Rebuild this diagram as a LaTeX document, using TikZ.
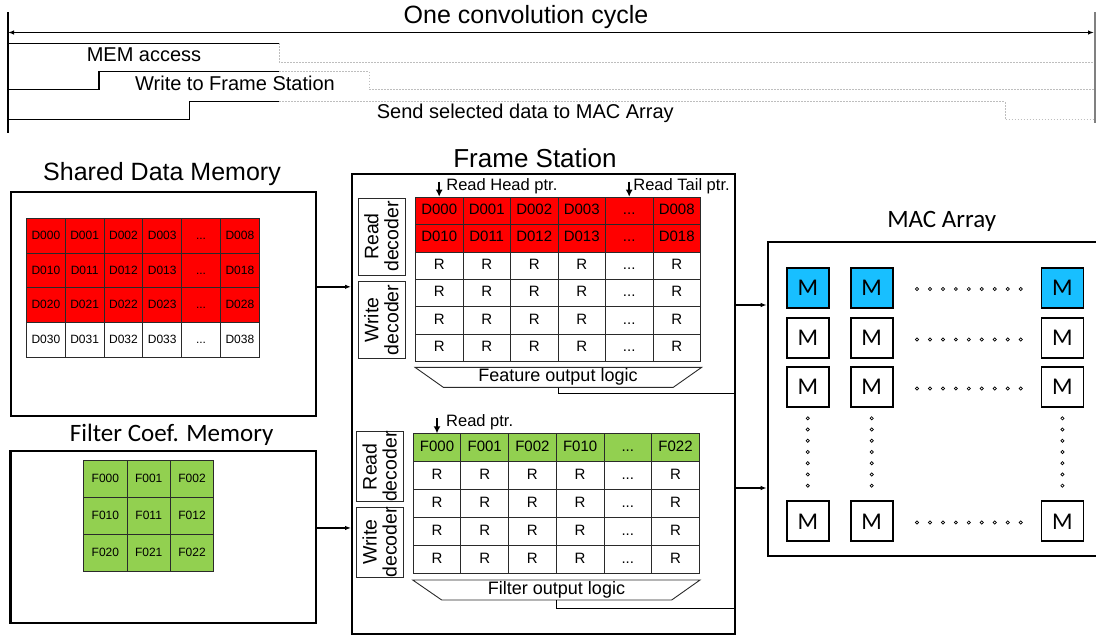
\documentclass[tikz,border=0pt]{standalone}
\usepackage{fontspec}
\setmainfont{Liberation Sans}
\newfontfamily\calibri{Carlito}
\usetikzlibrary{arrows.meta,calc,positioning}
\definecolor{Ink}{HTML}{000000}
\definecolor{Rule}{HTML}{2A2A2A}
\definecolor{CellRed}{HTML}{FF0000}
\definecolor{CellGreen}{HTML}{92D050}
\definecolor{MacBlue}{HTML}{18BFFF}
\definecolor{Wait}{HTML}{BEBEBE}
\newcommand{\pxsize}[1]{\fontsize{#1}{#1}\selectfont}

\begin{document}
\begin{tikzpicture}[x=1pt,y=-1pt,>={Latex[length=6pt,width=4.5pt]},
    bigbox/.style={draw=Ink,line width=2.2pt,inner sep=0pt,anchor=north west},
    smcell/.style={draw=Rule,line width=0.9pt,inner sep=0pt,anchor=north west,
      minimum width=38.8pt,minimum height=34.7pt,font=\pxsize{12},
      text height=0.72em,text depth=0pt},
    fscell/.style={draw=Rule,line width=0.9pt,inner sep=0pt,anchor=north west,
      minimum width=47.5pt,minimum height=27.5pt,font=\pxsize{15},
      text height=0.72em,text depth=0pt},
    decbox/.style={draw=Rule,line width=1pt,inner sep=0pt,rotate=90,align=center,
      minimum width=77pt,minimum height=47pt,font=\fontsize{19.5}{20}\selectfont},
    macbox/.style={draw=Ink,line width=1.8pt,inner sep=0pt,minimum width=42pt,
      minimum height=40pt,font=\calibri\pxsize{24}},
    title/.style={inner sep=0pt,font=\pxsize{25}},
    wave/.style={draw=Ink,line width=1.1pt},
    waitln/.style={draw=Wait,line width=1pt,dash pattern=on 1.5pt off 1.5pt},
    flow/.style={->,draw=Ink,line width=1.5pt},
    ptr/.style={->,>={Latex[length=7pt,width=7pt]},line width=1.7pt},
    ptrlbl/.style={inner sep=0pt,anchor=west,font=\pxsize{16.5}},
    macdot/.style={draw=Ink,line width=0.7pt}]
  \useasboundingbox (0,0) rectangle (1096,635);

  % timing of one cycle
  \coordinate (tl) at (8,32.5);
  \coordinate (tr) at (1094,32.5);
  \draw[line width=1.1pt] (8,12) -- (8,133);
  \draw[line width=1.2pt,gray] (1095,12) -- (1095,123);
  \draw[<->,line width=1.3pt] (tl) -- (tr);
  \node[inner sep=0pt,font=\pxsize{25}] (cyc) at (526,17) {One convolution cycle};
  \draw[wave] (8,43.3) -- (279.3,43.3);
  \draw[waitln] (279.3,43.3) |- (1094,62.5);
  \draw[wave] (8,89.3) -| (99,71.5) -- (279.3,71.5);
  \draw[waitln] (279.3,71.5) -- (369.3,71.5) |- (1094,89.5);
  \draw[wave] (8,119.3) -| (189.3,101.7) -- (279.3,101.7);
  \draw[waitln] (279.3,101.7) -- (1005,101.7) |- (1094,119.3);
  \node[inner sep=0pt,font=\pxsize{20}] (memacc) at (144,55) {MEM access};
  \node[inner sep=0pt,font=\pxsize{20}] (wrfs) at (235,83.3) {Write to Frame Station};
  \node[inner sep=0pt,font=\pxsize{20}] (sendmac) at (525.3,113.3) {Send selected data to MAC Array};

  % shared data memory
  \node[title] (shmt) at (162,174) {Shared Data Memory};
  \node[bigbox,minimum width=305pt,minimum height=224pt] (shm) at (10,191) {};
  \foreach \r/\bg in {0/CellRed,1/CellRed,2/CellRed,3/white}{
    \foreach \c/\k in {0/0,1/1,2/2,3/3,5/8}
      \node[smcell,fill=\bg] (sd\r\c) at ({26+\c*38.8},{218+\r*34.7}) {D0\r\k};
    \node[smcell,fill=\bg] (sd\r4) at ({26+4*38.8},{218+\r*34.7}) {...};
  }

  % filter coefficient memory
  \node[title,font=\calibri\pxsize{25}] (fcmt) at (171.7,435) {Filter Coef. Memory};
  \node[bigbox,minimum width=305.7pt,minimum height=171.7pt] (fcm) at (9.3,450) {};
  \foreach \r in {0,1,2}
    \foreach \c in {0,1,2}
      \node[smcell,fill=CellGreen,minimum width=43.3pt,minimum height=37pt]
        (fc\r\c) at ({83.3+\c*43.3},{460+\r*37}) {F0\r\c};

  % frame station
  \node[title,font=\pxsize{26}] (fst) at (535,158) {Frame Station};
  \node[bigbox,minimum width=383pt,minimum height=460pt] (fs) at (351,173) {};
  \node[decbox] (rdec) at (381.5,236.5) {Read\\decoder};
  \node[decbox] (wdec) at (381.5,320) {Write\\decoder};
  \foreach \r in {0,1}{
    \foreach \c/\k in {0/0,1/1,2/2,3/3,5/8}
      \node[fscell,fill=CellRed] (fd\r\c) at ({415+\c*47.5},{196.7+\r*27.4}) {D0\r\k};
    \node[fscell,fill=CellRed] (fd\r4) at ({415+4*47.5},{196.7+\r*27.4}) {...};
  }
  \foreach \r in {2,...,5}{
    \foreach \c in {0,1,2,3,5}
      \node[fscell,fill=white] (fd\r\c) at ({415+\c*47.5},{196.7+\r*27.4}) {R};
    \node[fscell,fill=white] (fd\r4) at ({415+4*47.5},{196.7+\r*27.4}) {...};
  }
  \coordinate (hp) at ([yshift=15pt]fd00.north);
  \draw[ptr] (hp) -- (fd00.north);
  \node[ptrlbl] (hplbl) at ([xshift=7pt,yshift=-5pt]hp) {Read Head ptr.};
  \coordinate (tp) at ([yshift=15pt]fd04.north);
  \draw[ptr] (tp) -- (fd04.north);
  \node[ptrlbl] (tplbl) at ([xshift=4pt,yshift=-5pt]tp) {Read Tail ptr.};
  \draw[line width=0.9pt,Rule] (415,367.3) -- (701.7,367.3) -- (673.3,387.3) -- (443.3,387.3) -- cycle;
  \node[inner sep=0pt,minimum height=20pt,font=\pxsize{18}] (fol) at (558,377.3) {Feature output logic};
  \draw[line width=0.9pt] (fol.south) |- (fs.east |- 0,393.3);

  \node[decbox,minimum width=70pt] (rdecf) at (379.7,466.7) {Read\\decoder};
  \node[decbox,minimum width=70pt] (wdecf) at (379.7,542.3) {Write\\decoder};
  \foreach \c/\lbl in {0/F000,1/F001,2/F002,3/F010,5/F022}
    \node[fscell,fill=CellGreen,minimum width=47.7pt,minimum height=28pt]
      (ff0\c) at ({412.7+\c*47.7},433.3) {\lbl};
  \node[fscell,fill=CellGreen,minimum width=47.7pt,minimum height=28pt]
    (ff04) at ({412.7+4*47.7},433.3) {...};
  \foreach \r in {1,...,4}{
    \foreach \c in {0,1,2,3,5}
      \node[fscell,fill=white,minimum width=47.7pt,minimum height=28pt]
        (ff\r\c) at ({412.7+\c*47.7},{433.3+\r*28}) {R};
    \node[fscell,fill=white,minimum width=47.7pt,minimum height=28pt]
      (ff\r4) at ({412.7+4*47.7},{433.3+\r*28}) {...};
  }
  \coordinate (rp) at ([yshift=15pt]ff00.north);
  \draw[ptr] (rp) -- (ff00.north);
  \node[ptrlbl] (rplbl) at ([xshift=9pt,yshift=-3.5pt]rp) {Read ptr.};
  \draw[line width=0.9pt,Rule] (412.7,580) -- (700,580) -- (671.7,600) -- (441.7,600) -- cycle;
  \node[inner sep=0pt,minimum height=20pt,font=\pxsize{18}] (ffl) at (556.5,590) {Filter output logic};
  \draw[line width=0.9pt] (ffl.south) |- (fs.east |- 0,608.3);

  % MAC array
  \node[title,font=\calibri\pxsize{25}] (mact) at (941.7,221.7) {MAC Array};
  \node[bigbox,minimum width=340pt,minimum height=313.8pt] (mac) at (766.7,240.7) {};
  \foreach \c/\x in {1/807.8,2/871.7,3/1062.4}{
    \node[macbox,fill=MacBlue] (m1\c) at (\x,287.7) {M};
    \node[macbox] (m2\c) at (\x,338.2) {M};
    \node[macbox] (m3\c) at (\x,387.2) {M};
    \node[macbox] (m4\c) at (\x,521.3) {M};
    \foreach \i in {0,...,6}
      \draw[macdot] (\x,{418.3+\i*11.23}) circle (1.6pt);
  }
  \foreach \y in {289,339.5,388.5,522.5}
    \foreach \i in {0,...,8}
      \draw[macdot] ({917+\i*12.96},\y) circle (1.6pt);

  % data paths
  \coordinate (shmout) at ([yshift=17.3pt]shm.east);
  \draw[flow] (shmout) -- (shmout -| fs.west);
  \coordinate (fcmout) at ([yshift=9pt]fcm.east);
  \draw[flow] (fcmout) -- (fcmout -| fs.west);
  \draw[flow] (fs.east |- 0,305) -- (mac.west |- 0,305);
  \draw[flow] (fs.east |- 0,488) -- (mac.west |- 0,488);
\end{tikzpicture}
\end{document}
